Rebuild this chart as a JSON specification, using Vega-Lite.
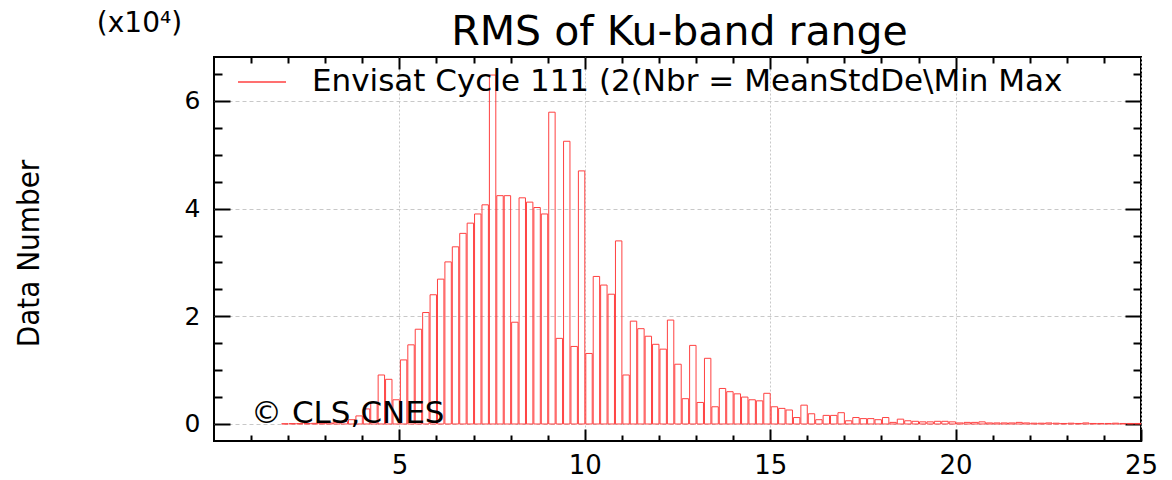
{
  "$schema": "https://vega.github.io/schema/vega-lite/v6.json",
  "width": 927,
  "height": 384,
  "autosize": {"type": "none"},
  "padding": {"left": 214, "top": 57, "right": 31, "bottom": 39},
  "background": "white",
  "data": {"values": [
    {"start": 1.8, "end": 2.0, "count": 50},
    {"start": 2.0, "end": 2.2, "count": 80},
    {"start": 2.2, "end": 2.4, "count": 80},
    {"start": 2.4, "end": 2.6, "count": 100},
    {"start": 2.6, "end": 2.8, "count": 120},
    {"start": 2.8, "end": 3.0, "count": 150},
    {"start": 3.0, "end": 3.2, "count": 200},
    {"start": 3.2, "end": 3.4, "count": 300},
    {"start": 3.4, "end": 3.6, "count": 500},
    {"start": 3.6, "end": 3.8, "count": 800},
    {"start": 3.8, "end": 4.0, "count": 1500},
    {"start": 4.0, "end": 4.2, "count": 2800},
    {"start": 4.2, "end": 4.4, "count": 4000},
    {"start": 4.4, "end": 4.6, "count": 9100},
    {"start": 4.6, "end": 4.8, "count": 8300},
    {"start": 4.8, "end": 5.0, "count": 4500},
    {"start": 5.0, "end": 5.2, "count": 11900},
    {"start": 5.2, "end": 5.4, "count": 14700},
    {"start": 5.4, "end": 5.6, "count": 17600},
    {"start": 5.6, "end": 5.8, "count": 20700},
    {"start": 5.8, "end": 6.0, "count": 24000},
    {"start": 6.0, "end": 6.2, "count": 26900},
    {"start": 6.2, "end": 6.4, "count": 30100},
    {"start": 6.4, "end": 6.6, "count": 32900},
    {"start": 6.6, "end": 6.8, "count": 35400},
    {"start": 6.8, "end": 7.0, "count": 37300},
    {"start": 7.0, "end": 7.2, "count": 39000},
    {"start": 7.2, "end": 7.4, "count": 40700},
    {"start": 7.4, "end": 7.6, "count": 64800},
    {"start": 7.6, "end": 7.8, "count": 42400},
    {"start": 7.8, "end": 8.0, "count": 42400},
    {"start": 8.0, "end": 8.2, "count": 18900},
    {"start": 8.2, "end": 8.4, "count": 42000},
    {"start": 8.4, "end": 8.6, "count": 41200},
    {"start": 8.6, "end": 8.8, "count": 40200},
    {"start": 8.8, "end": 9.0, "count": 39000},
    {"start": 9.0, "end": 9.2, "count": 57900},
    {"start": 9.2, "end": 9.4, "count": 15900},
    {"start": 9.4, "end": 9.6, "count": 52500},
    {"start": 9.6, "end": 9.8, "count": 14400},
    {"start": 9.8, "end": 10.0, "count": 47000},
    {"start": 10.0, "end": 10.2, "count": 13100},
    {"start": 10.2, "end": 10.4, "count": 27400},
    {"start": 10.4, "end": 10.6, "count": 25800},
    {"start": 10.6, "end": 10.8, "count": 24100},
    {"start": 10.8, "end": 11.0, "count": 34000},
    {"start": 11.0, "end": 11.2, "count": 9100},
    {"start": 11.2, "end": 11.4, "count": 19100},
    {"start": 11.4, "end": 11.6, "count": 17700},
    {"start": 11.6, "end": 11.8, "count": 16300},
    {"start": 11.8, "end": 12.0, "count": 14800},
    {"start": 12.0, "end": 12.2, "count": 13900},
    {"start": 12.2, "end": 12.4, "count": 19300},
    {"start": 12.4, "end": 12.6, "count": 11100},
    {"start": 12.6, "end": 12.8, "count": 4700},
    {"start": 12.8, "end": 13.0, "count": 14600},
    {"start": 13.0, "end": 13.2, "count": 4000},
    {"start": 13.2, "end": 13.4, "count": 12200},
    {"start": 13.4, "end": 13.6, "count": 3200},
    {"start": 13.6, "end": 13.8, "count": 6600},
    {"start": 13.8, "end": 14.0, "count": 6000},
    {"start": 14.0, "end": 14.2, "count": 5600},
    {"start": 14.2, "end": 14.4, "count": 5000},
    {"start": 14.4, "end": 14.6, "count": 4500},
    {"start": 14.6, "end": 14.8, "count": 4300},
    {"start": 14.8, "end": 15.0, "count": 5700},
    {"start": 15.0, "end": 15.2, "count": 3200},
    {"start": 15.2, "end": 15.4, "count": 2900},
    {"start": 15.4, "end": 15.6, "count": 2600},
    {"start": 15.6, "end": 15.8, "count": 1200},
    {"start": 15.8, "end": 16.0, "count": 3500},
    {"start": 16.0, "end": 16.2, "count": 1900},
    {"start": 16.2, "end": 16.4, "count": 800},
    {"start": 16.4, "end": 16.6, "count": 1600},
    {"start": 16.6, "end": 16.8, "count": 1600},
    {"start": 16.8, "end": 17.0, "count": 2100},
    {"start": 17.0, "end": 17.2, "count": 600},
    {"start": 17.2, "end": 17.4, "count": 1200},
    {"start": 17.4, "end": 17.6, "count": 1000},
    {"start": 17.6, "end": 17.8, "count": 1000},
    {"start": 17.8, "end": 18.0, "count": 800},
    {"start": 18.0, "end": 18.2, "count": 1200},
    {"start": 18.2, "end": 18.4, "count": 300},
    {"start": 18.4, "end": 18.6, "count": 900},
    {"start": 18.6, "end": 18.8, "count": 600},
    {"start": 18.8, "end": 19.0, "count": 500},
    {"start": 19.0, "end": 19.2, "count": 400},
    {"start": 19.2, "end": 19.4, "count": 400},
    {"start": 19.4, "end": 19.6, "count": 500},
    {"start": 19.6, "end": 19.8, "count": 500},
    {"start": 19.8, "end": 20.0, "count": 400},
    {"start": 20.0, "end": 20.2, "count": 200},
    {"start": 20.2, "end": 20.4, "count": 300},
    {"start": 20.4, "end": 20.6, "count": 300},
    {"start": 20.6, "end": 20.8, "count": 400},
    {"start": 20.8, "end": 21.0, "count": 200},
    {"start": 21.0, "end": 21.2, "count": 200},
    {"start": 21.2, "end": 21.4, "count": 200},
    {"start": 21.4, "end": 21.6, "count": 200},
    {"start": 21.6, "end": 21.8, "count": 300},
    {"start": 21.8, "end": 22.0, "count": 200},
    {"start": 22.0, "end": 22.2, "count": 150},
    {"start": 22.2, "end": 22.4, "count": 150},
    {"start": 22.4, "end": 22.6, "count": 200},
    {"start": 22.6, "end": 22.8, "count": 150},
    {"start": 22.8, "end": 23.0, "count": 100},
    {"start": 23.0, "end": 23.2, "count": 150},
    {"start": 23.2, "end": 23.4, "count": 100},
    {"start": 23.4, "end": 23.6, "count": 200},
    {"start": 23.6, "end": 23.8, "count": 100},
    {"start": 23.8, "end": 24.0, "count": 100},
    {"start": 24.0, "end": 24.2, "count": 100},
    {"start": 24.2, "end": 24.4, "count": 150},
    {"start": 24.4, "end": 24.6, "count": 100},
    {"start": 24.6, "end": 24.8, "count": 100},
    {"start": 24.8, "end": 25.0, "count": 100}
  ]},
  "layer": [
    {
      "mark": {"type": "bar", "filled": false, "strokeWidth": 1, "binSpacing": 1},
      "encoding": {
        "x": {"field": "start", "type": "quantitative", "bin": "binned",
              "scale": {"domain": [0, 25], "nice": false, "zero": false},
              "axis": {"orient": "bottom", "values": [5, 10, 15, 20, 25], "tickSize": -12, "labelPadding": 23, "labelFlush": false, "labelFontSize": 26,
                       "grid": true, "gridColor": "#c8c8c8", "gridDash": [2, 2], "gridWidth": 1, "title": null}},
        "x2": {"field": "end"},
        "y": {"field": "count", "type": "quantitative",
              "scale": {"domain": [-3157, 68150], "nice": false, "zero": false},
              "axis": {"orient": "left", "values": [0, 20000, 40000, 60000], "labelExpr": "datum.value / 10000", "tickSize": -16, "labelPadding": 30,
                       "labelAlign": "right", "labelBaseline": "middle", "labelFlush": false, "labelFontSize": 25,
                       "grid": true, "gridColor": "#c8c8c8", "gridDash": [4, 3], "gridWidth": 1,
                       "title": "Data Number", "titleFont": "DejaVu Sans Condensed, DejaVu Sans", "titleFontSize": 31, "titleFontWeight": "normal", "titleColor": "black",
                       "titleAngle": -90, "titleAlign": "center", "titleBaseline": "middle", "titleX": -185, "titleY": 196}},
        "color": {"datum": "Envisat Cycle 111 (2(Nbr = MeanStdDe\\Min Max", "type": "nominal",
                  "scale": {"range": ["#ff4040"]},
                  "legend": {"orient": "none", "legendX": 23, "legendY": 0, "title": null, "symbolType": "stroke", "symbolSize": 2304,
                             "symbolStrokeWidth": 1.5, "symbolStrokeColor": "#ff5050", "labelFont": "DejaVu Sans", "labelFontSize": 31, "labelColor": "black",
                             "labelOffset": 25, "labelLimit": 1000, "padding": 0}}
      }
    },
    {
      "mark": {"type": "point", "opacity": 0},
      "encoding": {
        "x": {"field": "start", "type": "quantitative",
              "axis": {"orient": "bottom", "values": [1,2,3,4,6,7,8,9,11,12,13,14,16,17,18,19,21,22,23,24], "tickSize": -6, "labels": false, "grid": false, "title": null}},
        "y": {"field": "count", "type": "quantitative",
              "axis": {"orient": "left", "values": [5000,10000,15000,25000,30000,35000,45000,50000,55000,65000], "tickSize": -8, "labels": false, "grid": false,
                       "title": "(x10⁴)", "titleFont": "DejaVu Sans", "titleFontSize": 28, "titleFontWeight": "normal", "titleColor": "black",
                       "titleAngle": 0, "titleAlign": "center", "titleBaseline": "alphabetic", "titleX": -75, "titleY": -26}}
      }
    },
    {
      "mark": {"type": "point", "opacity": 0},
      "encoding": {
        "x": {"field": "start", "type": "quantitative",
              "axis": {"orient": "top", "values": [5, 10, 15, 20], "tickSize": -12, "labels": false, "grid": false,
                       "title": "RMS of Ku-band range", "titleFont": "DejaVu Sans", "titleFontSize": 41, "titleFontWeight": "normal", "titleColor": "black",
                       "titleAngle": 0, "titleAlign": "center", "titleBaseline": "alphabetic", "titleX": 465, "titleY": -13}},
        "y": {"field": "count", "type": "quantitative",
              "axis": {"orient": "right", "values": [0, 20000, 40000, 60000], "tickSize": -16, "labels": false, "grid": false, "title": null}}
      }
    },
    {
      "mark": {"type": "point", "opacity": 0},
      "encoding": {
        "x": {"field": "start", "type": "quantitative",
              "axis": {"orient": "top", "values": [1,2,3,4,6,7,8,9,11,12,13,14,16,17,18,19,21,22,23,24], "tickSize": -6, "labels": false, "grid": false, "title": null}},
        "y": {"field": "count", "type": "quantitative",
              "axis": {"orient": "right", "values": [5000,10000,15000,25000,30000,35000,45000,50000,55000,65000], "tickSize": -8, "labels": false, "grid": false, "title": null}}
      }
    },
    {
      "data": {"values": [{}]},
      "mark": {"type": "text", "text": "© CLS,CNES", "font": "DejaVu Sans", "fontSize": 31, "color": "black", "align": "left", "baseline": "alphabetic"},
      "encoding": {
        "x": {"datum": 1.0, "type": "quantitative", "axis": null},
        "y": {"datum": 200, "type": "quantitative", "axis": null}
      }
    }
  ],
  "resolve": {"axis": {"x": "independent", "y": "independent"}},
  "config": {
    "view": {"stroke": "black", "strokeWidth": 2},
    "axis": {"domain": false, "tickColor": "black", "tickWidth": 2, "labelFont": "DejaVu Sans", "labelFontSize": 24, "labelColor": "black"}
  }
}
